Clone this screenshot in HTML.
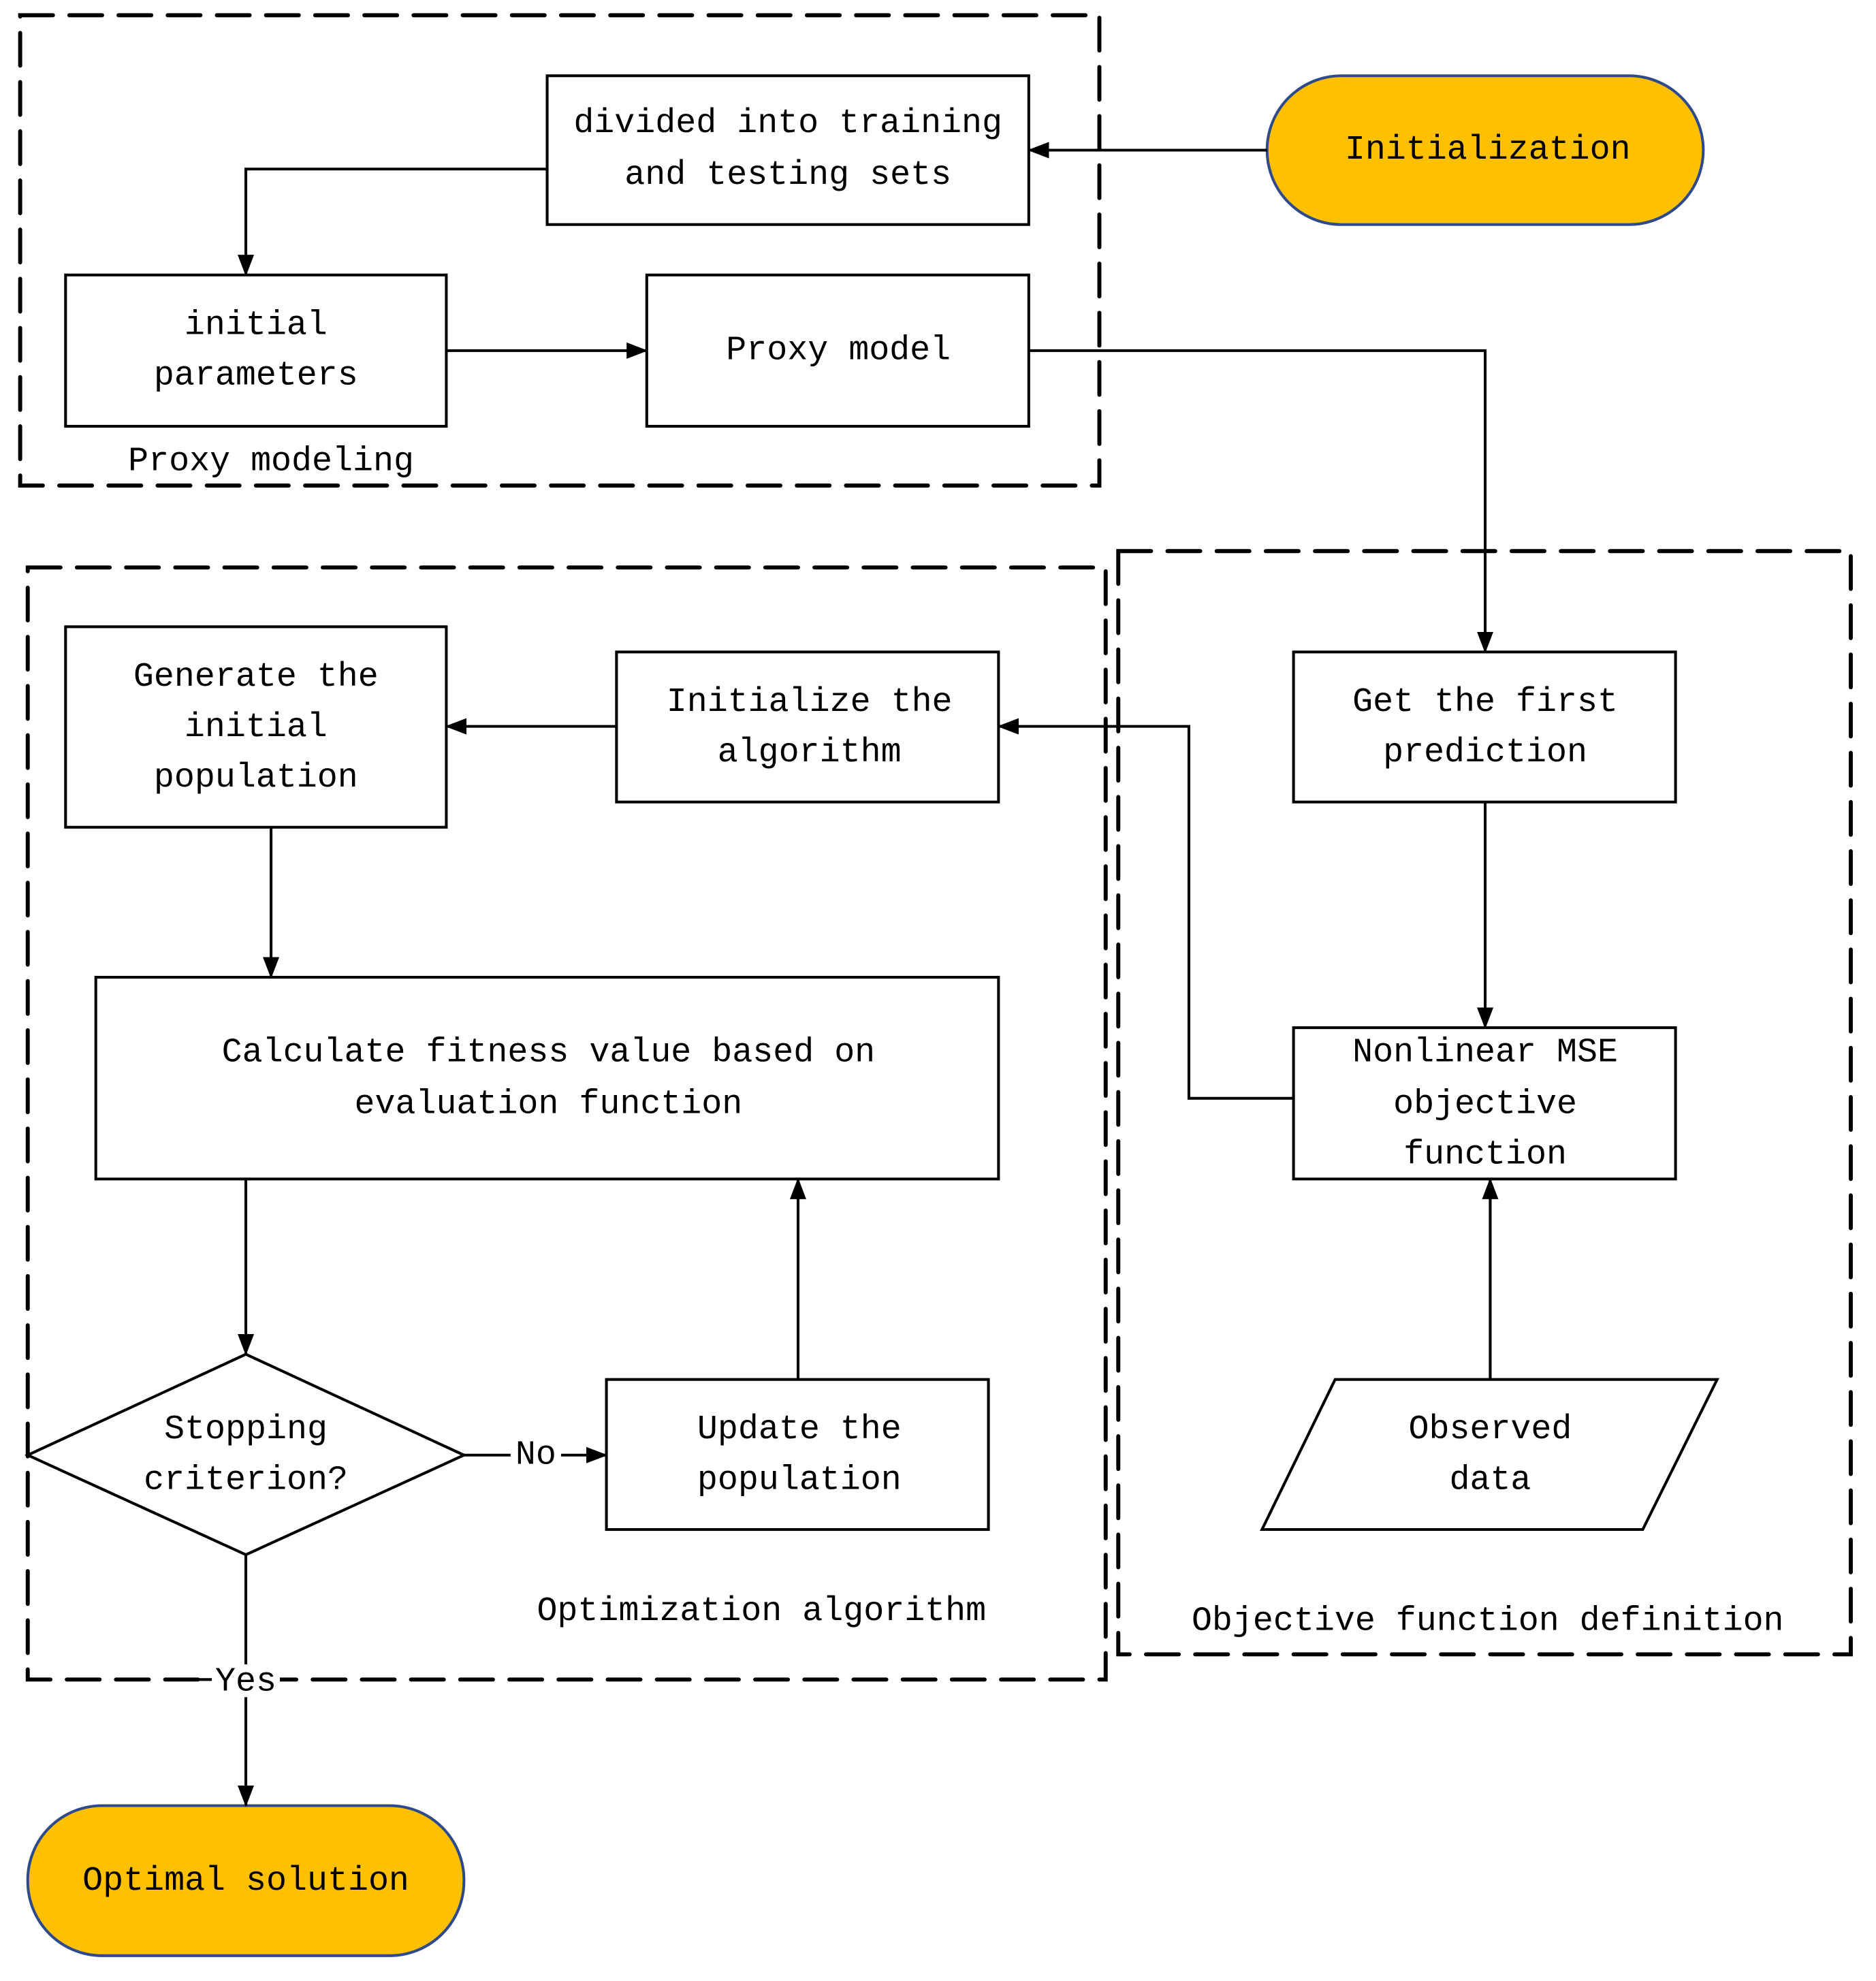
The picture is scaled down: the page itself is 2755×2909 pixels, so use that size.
<!DOCTYPE html>
<html><head><meta charset="utf-8"><style>html,body{margin:0;padding:0;background:#fff}svg{display:block}</style></head>
<body>
<svg width="2755" height="2909" viewBox="0 0 1488 1571" xmlns="http://www.w3.org/2000/svg">
<defs>
<marker id="b" markerWidth="17" markerHeight="13" refX="16" refY="6.5" orient="auto" markerUnits="userSpaceOnUse" viewBox="0 0 17 13"><path d="M0,0 L17,6.5 L0,13 Z" fill="#000"/></marker></defs>
<g fill="none" stroke="#000" stroke-width="3.2" stroke-dasharray="26 13" stroke-linecap="round">
<rect x="16" y="12" width="856" height="373"/>
<rect x="22" y="450" width="855" height="882"/>
<rect x="887" y="437" width="581" height="875"/>
</g>
<g fill="#fff" stroke="#000" stroke-width="2.2">
<rect x="434" y="60" width="382" height="118"/>
<rect x="52" y="218" width="302" height="120"/>
<rect x="513" y="218" width="303" height="120"/>
<rect x="52" y="497" width="302" height="159"/>
<rect x="489" y="517" width="303" height="119"/>
<rect x="1026" y="517" width="303" height="119"/>
<rect x="1026" y="815" width="303" height="120"/>
<rect x="76" y="775" width="716" height="160"/>
<polygon points="22,1154 195,1074 368,1154 195,1233"/>
<rect x="481" y="1094" width="303" height="119"/>
<polygon points="1001,1213 1059,1094 1362,1094 1303,1213"/>
</g>
<g fill="#FFC000" stroke="#2F4A8A" stroke-width="2.2">
<rect x="1005" y="60" width="346" height="118" rx="59"/>
<rect x="22" y="1432" width="346" height="119" rx="59"/>
</g>
<g fill="none" stroke="#000" stroke-width="2.2" marker-end="url(#b)">
<path d="M1005,119 H816"/>
<path d="M434,134 H195 V218"/>
<path d="M354,278 H513"/>
<path d="M816,278 H1178 V517"/>
<path d="M489,576 H354"/>
<path d="M1178,636 V815"/>
<path d="M1026,871 H943 V576 H792"/>
<path d="M215,656 V775"/>
<path d="M195,935 V1074"/>
<path d="M445,1154 H481"/>
<path d="M633,1094 V935"/>
<path d="M1182,1094 V935"/>
<path d="M195,1345 V1432"/>
</g>
<g stroke="#000" stroke-width="2.2">
<path d="M368,1154 H405"/>
<path d="M195,1233 V1322"/>
</g>
<rect x="168" y="1320" width="54" height="26" fill="#fff"/>
<path d="M155,1332 H168 M222,1332 H235" stroke="#000" stroke-width="2.2"/>
<g font-family="'Liberation Mono','Noto Sans CJK SC',monospace" font-size="27" text-anchor="middle" dominant-baseline="central" fill="#000">
<text x="625" y="98">divided into training</text>
<text x="625" y="139">and testing sets</text>
<text x="1180" y="119">Initialization</text>
<text x="203" y="258">initial</text>
<text x="203" y="298">parameters</text>
<text x="665" y="278">Proxy model</text>
<text x="215" y="366">Proxy modeling</text>
<text x="203" y="537">Generate the</text>
<text x="203" y="577">initial</text>
<text x="203" y="617">population</text>
<text x="642" y="557">Initialize the</text>
<text x="642" y="597">algorithm</text>
<text x="1178" y="557">Get the first</text>
<text x="1178" y="597">prediction</text>
<text x="1178" y="835">Nonlinear MSE</text>
<text x="1178" y="876">objective</text>
<text x="1178" y="916">function</text>
<text x="435" y="835">Calculate fitness value based on</text>
<text x="435" y="876">evaluation function</text>
<text x="195" y="1134">Stopping</text>
<text x="195" y="1174">criterion?</text>
<text x="425" y="1154">No</text>
<text x="634" y="1134">Update the</text>
<text x="634" y="1174">population</text>
<text x="1182" y="1134">Observed</text>
<text x="1182" y="1174">data</text>
<text x="604" y="1278">Optimization algorithm</text>
<text x="1180" y="1286">Objective function definition</text>
<text x="195" y="1334">Yes</text>
<text x="195" y="1492">Optimal solution</text>
</g>
</svg>
</body></html>
